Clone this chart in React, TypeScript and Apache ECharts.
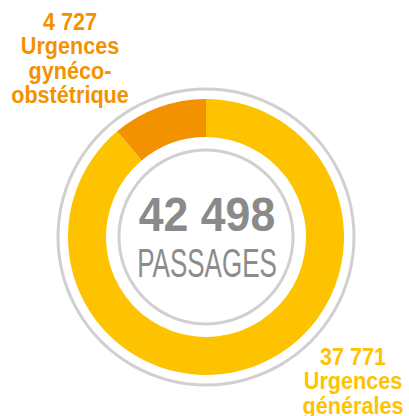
import React, { useEffect, useRef } from "react";
import * as echarts from "echarts";

const categories = ["Urgences générales", "Urgences gynéco-obstétrique"];
const values = [37771, 4727];
const labelLines = [["Urgences", "générales"], ["Urgences", "gynéco-", "obstétrique"]];
const sliceColors = ["#FDC300", "#F39200"];
const centerCaption = "PASSAGES";

const fmt = (n: number) => String(n).replace(/\B(?=(\d{3})+(?!\d))/g, " ");

export default function App() {
  const ref = useRef<HTMLDivElement>(null);
  useEffect(() => {
    document.body.style.margin = "0";
    const chart = echarts.init(ref.current!, null, { renderer: "svg" });
    const total = values.reduce((a, b) => a + b, 0);
    const cx = 206;
    const cy = 237;
    const labelFont = 'bold 24px "Liberation Sans", Arial, sans-serif';
    chart.setOption({
      animation: false,
      backgroundColor: "#ffffff",
      series: [
        {
          type: "pie",
          silent: true,
          center: [cx, cy],
          radius: [100, 138],
          startAngle: 90,
          clockwise: true,
          label: { show: false },
          labelLine: { show: false },
          data: categories.map((c, i) => ({
            name: c,
            value: values[i],
            itemStyle: { color: sliceColors[i] },
          })),
        },
        {
          type: "pie",
          silent: true,
          center: [cx, cy],
          radius: [146.5, 149.5],
          label: { show: false },
          data: [{ value: 1, itemStyle: { color: "#d0d0d0" } }],
        },
        {
          type: "pie",
          silent: true,
          center: [cx, cy],
          radius: [85.5, 88.5],
          label: { show: false },
          data: [{ value: 1, itemStyle: { color: "#d0d0d0" } }],
        },
      ],
      graphic: [
        {
          type: "text",
          x: cx + 1,
          y: 214,
          scaleX: 0.93,
          style: {
            text: fmt(total),
            fill: "#8a8a8a",
            font: 'bold 48px "Liberation Sans", Arial, sans-serif',
            textAlign: "center",
            textVerticalAlign: "middle",
          },
        },
        {
          type: "text",
          x: cx + 1,
          y: 263,
          scaleX: 0.65,
          style: {
            text: centerCaption,
            fill: "#8c8c8c",
            font: '40px "Liberation Sans", Arial, sans-serif',
            textAlign: "center",
            textVerticalAlign: "middle",
          },
        },
        {
          type: "text",
          x: 70,
          y: 9,
          scaleX: 0.9,
          style: {
            text: [fmt(values[1]), ...labelLines[1]].join("\n"),
            fill: "#F39200",
            font: labelFont,
            lineHeight: 24.5,
            textAlign: "center",
            textVerticalAlign: "top",
          },
        },
        {
          type: "text",
          x: 353,
          y: 344,
          scaleX: 0.9,
          style: {
            text: [fmt(values[0]), ...labelLines[0]].join("\n"),
            fill: "#FDC300",
            font: labelFont,
            lineHeight: 24.5,
            textAlign: "center",
            textVerticalAlign: "top",
          },
        },
      ],
    });
    return () => chart.dispose();
  }, []);
  return <div ref={ref} style={{ width: 409, height: 416 }} />;
}
